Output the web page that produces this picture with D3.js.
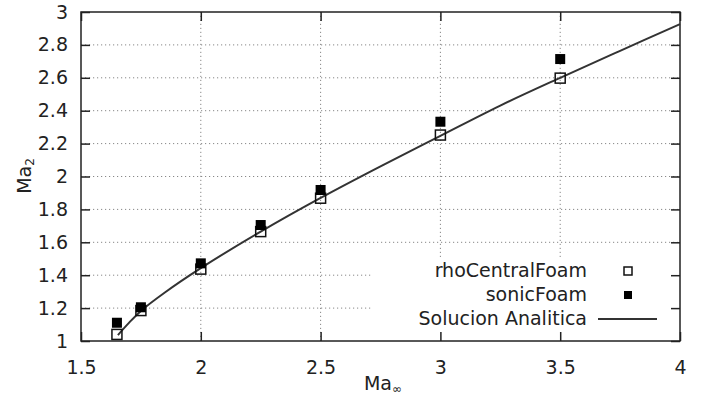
<!DOCTYPE html>
<html>
<head>
<meta charset="utf-8">
<script src="https://cdn.jsdelivr.net/npm/d3@7/dist/d3.min.js"></script>
<style>
  body { margin: 0; background: #fff; }
  svg { font-family: "DejaVu Sans", sans-serif; }
</style>
</head>
<body>
<div id="chart"></div>
<script>
// Mach numbers upstream
var machIn = [1.65, 1.75, 2, 2.25, 2.5, 3, 3.5];
var rhoCentral = [1.04, 1.185, 1.437, 1.665, 1.868, 2.252, 2.598];
var sonic = [1.111, 1.205, 1.472, 1.705, 1.918, 2.333, 2.714];

// analitic curve
var curveX = [1.654, 1.7, 1.75, 1.85, 2, 2.25, 2.5, 2.75, 3, 3.25, 3.5, 3.75, 4];
var curveY = [1.036, 1.11, 1.183, 1.295, 1.443, 1.665, 1.87, 2.062, 2.247, 2.431, 2.6, 2.764, 2.926];

var xTicks = [1.5, 2, 2.5, 3, 3.5, 4];
var yTicks = [1, 1.2, 1.4, 1.6, 1.8, 2, 2.2, 2.4, 2.6, 2.8, 3];
var legendNames = ["rhoCentralFoam", "sonicFoam", "Solucion Analitica"];

var width = 703, height = 400;
var pLeft = 81, pRight = 680, pTop = 12, pBottom = 341;

var svg = d3.select('#chart').append('svg')
  .attr('width', width)
  .attr('height', height);

var x = d3.scaleLinear().domain([1.5, 4]).range([pLeft, pRight]);
var y = d3.scaleLinear().domain([1, 3]).range([pBottom, pTop]);

//grid
var grid = svg.append('g')
  .attr('stroke', '#888')
  .attr('stroke-width', 1)
  .attr('stroke-dasharray', '1.2,2.8');
grid.selectAll('.gx')
  .data(xTicks.slice(1, -1))
  .enter().append('line')
  .attr('x1', function(d){return x(d);})
  .attr('x2', function(d){return x(d);})
  .attr('y1', pBottom)
  .attr('y2', pTop);
grid.selectAll('.gy')
  .data(yTicks.slice(1, -1))
  .enter().append('line')
  .attr('y1', function(d){return y(d);})
  .attr('y2', function(d){return y(d);})
  .attr('x1', pLeft)
  .attr('x2', pRight);

// key box hides the grid
svg.append('rect')
  .attr('x', 373)
  .attr('y', 259)
  .attr('width', pRight - 373)
  .attr('height', pBottom - 259)
  .attr('fill', '#fff');

var tickLen = 9;
var fontSize = 19;

var axisStyle = function(g){
  g.select('.domain').remove();
  g.selectAll('.tick line').attr('stroke', '#222').attr('stroke-width', 1.5);
  g.selectAll('text').attr('font-size', fontSize + 'px').attr('fill', '#222')
    .attr('font-family', '"DejaVu Sans", sans-serif');
};

svg.append('g')
  .attr('transform', 'translate(0,' + pBottom + ')')
  .call(d3.axisBottom(x).tickValues(xTicks).tickFormat(function(d){return d + "";})
    .tickSize(-tickLen).tickPadding(20))
  .call(axisStyle);
svg.append('g')
  .attr('transform', 'translate(0,' + pTop + ')')
  .call(d3.axisTop(x).tickValues(xTicks).tickFormat('').tickSize(-tickLen))
  .call(axisStyle);
svg.append('g')
  .attr('transform', 'translate(' + pLeft + ',0)')
  .call(d3.axisLeft(y).tickValues(yTicks).tickFormat(function(d){return d + "";})
    .tickSize(-tickLen).tickPadding(13))
  .call(axisStyle);
svg.append('g')
  .attr('transform', 'translate(' + pRight + ',0)')
  .call(d3.axisRight(y).tickValues(yTicks).tickFormat('').tickSize(-tickLen))
  .call(axisStyle);

// border
svg.append('rect')
  .attr('x', pLeft).attr('y', pTop)
  .attr('width', pRight - pLeft).attr('height', pBottom - pTop)
  .attr('fill', 'none')
  .attr('stroke', '#222')
  .attr('stroke-width', 1.5);

// axis labels
var xl = svg.append('text')
  .attr('x', 383).attr('y', 390)
  .attr('text-anchor', 'middle')
  .attr('font-size', fontSize + 'px')
  .attr('fill', '#222')
  .text('Ma');
xl.append('tspan').attr('font-size', '12px').attr('dy', 3).text('∞');

var yl = svg.append('text')
  .attr('transform', 'translate(31,176) rotate(-90)')
  .attr('text-anchor', 'middle')
  .attr('font-size', fontSize + 'px')
  .attr('fill', '#222')
  .text('Ma');
yl.append('tspan').attr('font-size', '12px').attr('dy', 3).text('2');

// analitic line
var curvePts = curveX.map(function(d, i){return [d, curveY[i]];});
var line = d3.line()
  .x(function(d){return x(d[0]);})
  .y(function(d){return y(d[1]);})
  .curve(d3.curveCatmullRom.alpha(0.5));
svg.append('path')
  .datum(curvePts)
  .attr('d', line)
  .attr('fill', 'none')
  .attr('stroke', '#333')
  .attr('stroke-width', 2);

var sz = 10;
svg.selectAll('.rho')
  .data(machIn)
  .enter().append('rect')
  .attr('x', function(d){return x(d) - sz/2;})
  .attr('y', function(d, i){return y(rhoCentral[i]) - sz/2;})
  .attr('width', sz).attr('height', sz)
  .attr('fill', 'none')
  .attr('stroke', '#111')
  .attr('stroke-width', 1.5);
svg.selectAll('.sonic')
  .data(machIn)
  .enter().append('rect')
  .attr('x', function(d){return x(d) - sz/2;})
  .attr('y', function(d, i){return y(sonic[i]) - sz/2;})
  .attr('width', sz).attr('height', sz)
  .attr('fill', '#000');

// key
var key = svg.append('g');
legendNames.forEach(function(name, i){
  var cy = 271 + i * 24;
  key.append('text')
    .attr('x', 587).attr('y', cy + 6)
    .attr('text-anchor', 'end')
    .attr('font-size', fontSize + 'px')
    .attr('fill', '#222')
    .text(name);
  if (i == 0) {
    key.append('rect').attr('x', 624).attr('y', cy - 4).attr('width', 8).attr('height', 8)
      .attr('fill', 'none').attr('stroke', '#111').attr('stroke-width', 1.5);
  } else if (i == 1) {
    key.append('rect').attr('x', 624).attr('y', cy - 4).attr('width', 8).attr('height', 8)
      .attr('fill', '#000');
  } else {
    key.append('line').attr('x1', 598).attr('x2', 657).attr('y1', cy).attr('y2', cy)
      .attr('stroke', '#333').attr('stroke-width', 2);
  }
});
</script>
</body>
</html>
